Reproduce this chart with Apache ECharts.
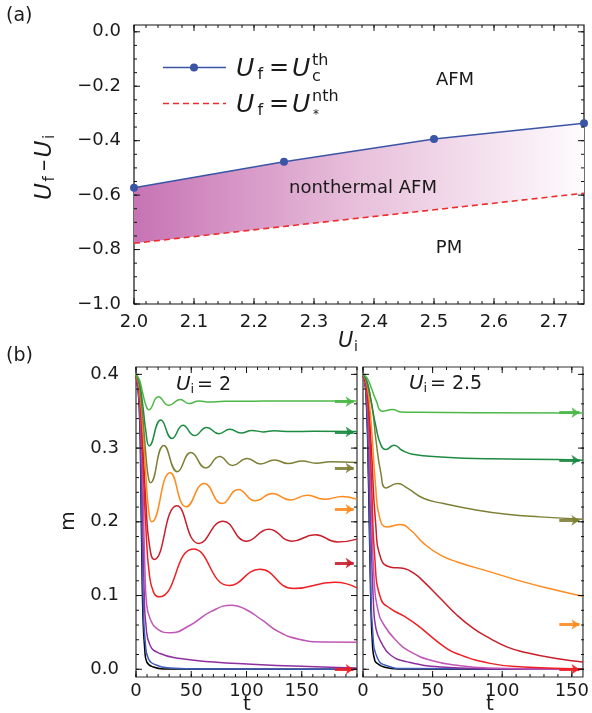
<!DOCTYPE html>
<html><head><meta charset="utf-8">
<script src="https://cdn.jsdelivr.net/npm/echarts@6/dist/echarts.min.js"></script>
<style>html,body{margin:0;padding:0;background:#fff}#c{width:592px;height:713px}</style>
</head><body><div id="c"></div>
<script>
// ---------- Panel (a) data ----------
const aUi = [2.0, 2.25, 2.5, 2.75];
const aThermal = [-0.573, -0.477, -0.394, -0.336];     // U_f = U_c^th (blue, markers)
const aNonthermal = [-0.777, -0.715, -0.654, -0.593];  // U_f = U_*^nth (red dashed)
const aXTicks = [2.0, 2.1, 2.2, 2.3, 2.4, 2.5, 2.6, 2.7];
const aYTicks = [-1.0, -0.8, -0.6, -0.4, -0.2, 0.0];

// ---------- Panel (b) data: [t, m] ----------
const L_lgreen = [[0,0.4],[3,0.393],[6,0.375],[9,0.358],[11.5,0.352],[20.3,0.3695],[29.7,0.358],[40,0.366],[48,0.3605],[57,0.364],[66,0.3625],[80,0.3635],[100,0.3635],[130,0.364],[160,0.364],[200,0.364]];
const L_dgreen = [[0,0.4],[3,0.39],[6,0.36],[9,0.322],[12,0.303],[22.5,0.338],[32.7,0.313],[42.5,0.331],[53,0.317],[64,0.328],[75,0.3195],[85,0.3255],[95,0.3205],[105,0.324],[115,0.322],[125,0.3235],[140,0.3225],[160,0.3228],[200,0.3225]];
const L_olive = [[0,0.4],[3,0.386],[6,0.345],[9,0.29],[11,0.262],[13,0.253],[25.2,0.3035],[37.5,0.268],[49.7,0.294],[63.3,0.273],[75.6,0.2885],[87.5,0.2765],[100.6,0.286],[112.7,0.2785],[125.5,0.284],[137.6,0.279],[150.6,0.2825],[163,0.2795],[176,0.2815],[200,0.2805]];
const L_orange = [[0,0.4],[3,0.382],[6,0.33],[9,0.262],[11.5,0.215],[14.2,0.2],[30.9,0.2665],[45.5,0.2204],[61.8,0.252],[77.9,0.2249],[92.5,0.2439],[108,0.2285],[123.3,0.2385],[139.5,0.2295],[155,0.236],[170.5,0.2305],[187,0.2345],[200,0.2305]];
const L_dred = [[0,0.4],[3,0.378],[6,0.31],[9,0.225],[12,0.17],[16.4,0.149],[37,0.2217],[57,0.1706],[78.8,0.2009],[100,0.1738],[120.3,0.19],[141,0.1738],[162.3,0.1825],[182.4,0.1725],[200,0.1765]];
const L_red = [[0,0.4],[3,0.375],[6,0.29],[9,0.19],[12,0.13],[16,0.104],[21,0.0982],[52,0.163],[84.5,0.1135],[112,0.1355],[142.5,0.1095],[180,0.118],[200,0.1105]];
const L_orchid = [[0,0.4],[3,0.37],[6,0.26],[8,0.14],[9.7,0.087],[12.7,0.0688],[18.8,0.0552],[31,0.0495],[49,0.0597],[67.3,0.0778],[87,0.0869],[99,0.0814],[114.3,0.0665],[129.4,0.0506],[147.5,0.0407],[168.8,0.037],[200,0.0368]];
const L_purple = [[0,0.4],[3,0.365],[5.5,0.25],[7.5,0.1],[9,0.06],[12.7,0.0326],[21.8,0.0213],[40,0.0145],[70.3,0.0099],[100.6,0.0072],[150,0.004],[200,0.0018]];
const L_blue = [[0,0.4],[3,0.36],[5,0.22],[6.7,0.08],[8.5,0.035],[11.2,0.0145],[18.8,0.0054],[30.9,0.0018],[60,0.0003],[200,0]];
const L_black = [[0,0.4],[3,0.355],[4.8,0.2],[6.3,0.07],[8,0.025],[9.7,0.01],[15.7,0.003],[25,0.0005],[200,0]];

const R_lgreen = [[0,0.4],[3,0.395],[5.7,0.383],[9.3,0.365],[14,0.35],[21.2,0.3523],[27,0.349],[40,0.3485],[80,0.348],[158,0.3476]];
const R_dgreen = [[0,0.4],[3,0.39],[5.7,0.365],[9.3,0.329],[12.9,0.304],[16.4,0.298],[22.4,0.304],[28.3,0.2967],[35.5,0.2917],[55.7,0.288],[91.4,0.2854],[139,0.2845],[158,0.2836]];
const R_olive = [[0,0.4],[3,0.388],[6.9,0.351],[9.3,0.311],[12.9,0.2655],[16.4,0.246],[24.8,0.252],[31.9,0.2456],[43.8,0.2316],[58,0.2248],[79.5,0.2166],[103.3,0.2103],[127,0.2067],[158,0.2035]];
const R_orange = [[0,0.4],[3,0.385],[6,0.33],[9,0.25],[12,0.205],[17.1,0.193],[27.1,0.1963],[34.3,0.1886],[43.8,0.1705],[55.7,0.1547],[67.6,0.1456],[91.4,0.1321],[115.2,0.1185],[139,0.1072],[158,0.099]];
const R_dred = [[0,0.4],[3,0.38],[6,0.3],[9,0.2],[12.9,0.15],[20,0.1385],[29.5,0.1366],[36.7,0.13],[43.8,0.1185],[55.7,0.0959],[67.6,0.0733],[79.5,0.0552],[91.4,0.0416],[103.3,0.0303],[115.2,0.0235],[139,0.0145],[158,0.01]];
const R_red = [[0,0.4],[3,0.375],[6,0.26],[8.5,0.15],[12.9,0.095],[20,0.082],[29.5,0.072],[39,0.06],[48.6,0.045],[58,0.031],[67.6,0.021],[91.4,0.008],[115,0.003],[158,0.0005]];
const R_orchid = [[0,0.4],[3,0.37],[6,0.22],[8,0.12],[10.5,0.0823],[15.2,0.0597],[24.8,0.0371],[34.3,0.0235],[48.6,0.0122],[67.6,0.0054],[90,0.0018],[158,0]];
const R_purple = [[0,0.4],[3,0.365],[5.5,0.2],[7.5,0.09],[9.3,0.055],[12.9,0.037],[20,0.019],[31.9,0.01],[55.7,0.003],[90,0.0008],[158,0]];
const R_blue = [[0,0.4],[2,0.38],[4,0.27],[5.5,0.12],[7,0.05],[10.5,0.0145],[17.6,0.0045],[30,0.001],[158,0]];
const R_black = [[0,0.4],[2,0.378],[4,0.25],[5.5,0.1],[6.9,0.03],[8.5,0.012],[10.5,0.0077],[15.2,0.003],[25,0.0005],[158,0]];

// asymptotic values (arrows)
const L_arrows = {lgreen:0.363, dgreen:0.322, olive:0.273, orange:0.217, dred:0.144, red:0.0};
const R_arrows = {lgreen:0.348, dgreen:0.2836, olive:0.202, orange:0.0607, red:0.0};
const L_arrowSpan = [180, 197];
const R_arrowSpan = [141, 155.5];

const bYTicks = [0.0, 0.1, 0.2, 0.3, 0.4];
const bXTicks = [0, 50, 100, 150];

const COL = {lgreen:'#4db848', dgreen:'#1d8b42', olive:'#7e7f35', orange:'#ff8a1e', dred:'#c81f2b', red:'#ee2024', orchid:'#c056b6', purple:'#8e2fa0', blue:'#3d5bbf', black:'#000000'};

function range(a, b, s){ const r=[]; for(let v=a; v<=b+1e-9; v+=s) r.push(+v.toFixed(4)); return r; }
const FONT = '"DejaVu Sans"';

const aXmin = 2.0, aXmax = 2.75, aYmin = -1.0, aYmax = 0.025;
const bYmin = -0.0105, bYmax = 0.41;
const bLXmax = 200, bRXmax = 158;

function axis(grid, min, max, pos, major, label){
  return {type:'value',gridIndex:grid,min:min,max:max,position:pos,splitLine:{show:false},
    axisLine:{show:false,onZero:false},axisTick:{show:false},minorTick:{show:false},
    axisLabel:Object.assign({show:true,customValues:major,fontFamily:FONT,fontSize:18,color:'#1a1a1a'},label)};
}
const xAxes = [
  axis(0,aXmin,aXmax,'bottom',aXTicks,{margin:9,formatter:v=>v.toFixed(1)}),
  axis(1,0,bLXmax,'bottom',bXTicks,{margin:5,formatter:v=>String(Math.round(v))}),
  axis(2,0,bRXmax,'bottom',bXTicks,{margin:5,formatter:v=>String(Math.round(v))})
];
const yAxes = [
  axis(0,aYmin,aYmax,'left',aYTicks,{margin:13,formatter:v=>(v<-1e-9?'\u2212':'')+Math.abs(v).toFixed(1)}),
  axis(1,bYmin,bYmax,'left',bYTicks,{margin:17,formatter:v=>v.toFixed(1)}),
  axis(2,bYmin,bYmax,'left',bYTicks,{show:false})
];

const series = [];
series.push({type:'custom',xAxisIndex:0,yAxisIndex:0,z:1,silent:true,
  data:[[aUi[0],aThermal[0]]],
  renderItem:(params,api)=>{
    const top = aUi.map((x,i)=>api.coord([x,aThermal[i]]));
    const bot = aUi.map((x,i)=>api.coord([x,aNonthermal[i]])).reverse();
    return {type:'polygon',shape:{points:top.concat(bot)},
      style:{fill:new echarts.graphic.LinearGradient(0,0,1,0,[{offset:0,color:'#c773b4'},{offset:0.5,color:'#e8c0db'},{offset:1,color:'#fefbfd'}])}};
  }});
series.push({type:'line',xAxisIndex:0,yAxisIndex:0,symbol:'none',z:3,
  data:aUi.map((x,i)=>[x,aNonthermal[i]]),lineStyle:{color:'#ee2c2c',width:1.6,type:[6,4]}});
series.push({type:'line',xAxisIndex:0,yAxisIndex:0,symbol:'circle',symbolSize:8,z:4,
  data:aUi.map((x,i)=>[x,aThermal[i]]),lineStyle:{color:'#3b55a6',width:1.5},itemStyle:{color:'#3b55a6'}});

function addCurves(list, axisIdx, arrows, span){
  list.forEach(([key,data])=>{
    const s = {type:'line',xAxisIndex:axisIdx,yAxisIndex:axisIdx,symbol:'none',smooth:0.5,z:2,
      data:data,lineStyle:{color:COL[key],width:1.5},itemStyle:{color:COL[key]}};
    if (arrows[key] !== undefined){
      s.markLine = {silent:true,symbol:['none','arrow'],symbolSize:8,label:{show:false},
        lineStyle:{color:COL[key],width:3,type:'solid',opacity:0.9},
        data:[[{coord:[span[0],arrows[key]]},{coord:[span[1],arrows[key]]}]]};
    }
    series.push(s);
  });
}
addCurves([['black',L_black],['blue',L_blue],['purple',L_purple],['orchid',L_orchid],['red',L_red],['dred',L_dred],['orange',L_orange],['olive',L_olive],['dgreen',L_dgreen],['lgreen',L_lgreen]],1,L_arrows,L_arrowSpan);
addCurves([['black',R_black],['blue',R_blue],['purple',R_purple],['orchid',R_orchid],['red',R_red],['dred',R_dred],['orange',R_orange],['olive',R_olive],['dgreen',R_dgreen],['lgreen',R_lgreen]],2,R_arrows,R_arrowSpan);

function T(text,x,y,font,opt){
  return {type:'text',x:x,y:y,z:100,silent:true,style:Object.assign({text:text,font:font,fill:'#1a1a1a',textAlign:'left',textVerticalAlign:'middle',align:'left',verticalAlign:'middle'},opt||{})};
}
const it = s=>'italic '+s+'px '+FONT, rg = s=>s+'px '+FONT;

const graphic = [
  T('(a)',6,16,rg(19)),
  T('(b)',6,356,rg(19)),
  {type:'line',silent:true,z:100,shape:{x1:163,y1:67.5,x2:226,y2:67.5},style:{stroke:'#3b55a6',lineWidth:1.5}},
  {type:'circle',silent:true,z:100,shape:{cx:194,cy:67.5,r:4},style:{fill:'#3b55a6'}},
  {type:'line',silent:true,z:100,shape:{x1:163,y1:103.5,x2:226,y2:103.5},style:{stroke:'#ee2c2c',lineWidth:1.6,lineDash:[6,4]}},
  T('U',236,69,it(25)), T('f',257.5,74.5,rg(16)), T('=',269,69,rg(24)), T('U',292,69,it(25)),
  T('th',312,60.5,rg(16)), T('c',312,76.5,rg(16)),
  T('U',236,105,it(25)), T('f',257.5,110.5,rg(16)), T('=',269,105,rg(24)), T('U',292,105,it(25)),
  T('nth',312,96.5,rg(16)), T('*',313,115,rg(12)),
  T('AFM',455,80,rg(18),{textAlign:'center',align:'center'}),
  T('nonthermal AFM',363,188,rg(18),{textAlign:'center',align:'center'}),
  T('PM',449,248,rg(18),{textAlign:'center',align:'center'}),
  T('U',338,342,it(21)), T('i',354,347,rg(14)),
  {type:'group',x:45,y:166,z:100,rotation:Math.PI/2,silent:true,children:[
    T('U',-34,0,it(23)), T('f',-15.5,5,rg(15)), T('\u2013',-5,0,rg(23)), T('U',8.5,0,it(23)), T('i',27,5,rg(15))
  ]},
  T('U',176,385,it(20)), T('i',190.5,390,rg(13)), T('= 2',197,385,rg(19)),
  T('U',409,384,it(20)), T('i',423.5,389,rg(13)), T('= 2.5',430,384,rg(19)),
  {type:'group',x:69,y:521,z:100,rotation:Math.PI/2,silent:true,children:[T('m',0,0,rg(20),{textAlign:'center',align:'center'})]},
  T('t',247,705,rg(20),{textAlign:'center',align:'center'}),
  T('t',490,705,rg(20),{textAlign:'center',align:'center'})
];

const chart = echarts.init(document.getElementById('c'));
chart.setOption({
  animation:false,
  grid:[
    {left:134,top:25,width:450,height:279,show:true,borderColor:'#111',borderWidth:1.2},
    {left:136,top:367,width:221,height:310,show:true,borderColor:'#333',borderWidth:1.2},
    {left:363,top:367,width:221,height:310,show:true,borderColor:'#333',borderWidth:1.2}
  ],
  xAxis:xAxes,
  yAxis:yAxes,
  series:series
});

// inward tick marks on all four sides, positioned through the axis scales (convertToPixel)
const tickSpec = [
  {gi:0, xMaj:aXTicks, xMin:range(2.0,2.74,0.02), yMaj:aYTicks, yMin:range(-1.0,0.0,0.05)},
  {gi:1, xMaj:bXTicks, xMin:range(0,200,10), yMaj:bYTicks, yMin:range(0,0.4,0.02)},
  {gi:2, xMaj:bXTicks, xMin:range(0,150,10), yMaj:bYTicks, yMin:range(0,0.4,0.02)}
];
const gridRects = [[134,25,450,279],[136,367,221,310],[363,367,221,310]];
const tickEls = [];
function tk(x1,y1,x2,y2){ tickEls.push({type:'line',silent:true,z:90,shape:{x1:x1,y1:y1,x2:x2,y2:y2},style:{stroke:'#111',lineWidth:1}}); }
tickSpec.forEach(s=>{
  const [L,Tp,W,H] = gridRects[s.gi]; const R=L+W, B=Tp+H;
  const px = v=>chart.convertToPixel({xAxisIndex:s.gi}, v);
  const py = v=>chart.convertToPixel({yAxisIndex:s.gi}, v);
  s.xMaj.forEach(v=>{const x=px(v); tk(x,B,x,B-6); tk(x,Tp,x,Tp+6);});
  s.xMin.forEach(v=>{const x=px(v); tk(x,B,x,B-3); tk(x,Tp,x,Tp+3);});
  s.yMaj.forEach(v=>{const y=py(v); tk(L,y,L+6,y); tk(R,y,R-6,y);});
  s.yMin.forEach(v=>{const y=py(v); tk(L,y,L+3,y); tk(R,y,R-3,y);});
});

chart.setOption({graphic: graphic.concat(tickEls)});
</script></body></html>
